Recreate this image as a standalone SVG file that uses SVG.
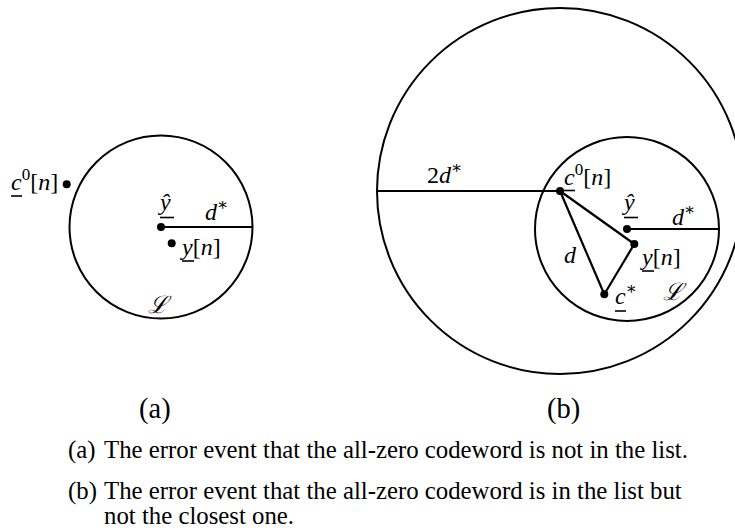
<svg xmlns="http://www.w3.org/2000/svg" width="735" height="531" viewBox="0 0 735 531">
<style>
.c{fill:none;stroke:#000;stroke-width:2}
.ln{stroke:#000;stroke-width:2.2;fill:none}
.ul{stroke:#000;stroke-width:1.6}
.dot{fill:#000}
.m{font-family:"Liberation Serif","DejaVu Serif",serif;font-size:24px;fill:#000}
.i{font-style:italic}
.sup{font-size:17px}
.cap{font-family:"Liberation Serif","Times New Roman",serif;font-size:24.8px;fill:#000}
.lab{font-family:"Liberation Serif","Times New Roman",serif;font-size:28.5px;fill:#000}
</style>
<rect width="735" height="531" fill="#fff"/>

<g id="circle-a-L"><circle class="c" cx="161" cy="227" r="91.5"/></g>
<g id="circle-b-2d"><circle class="c" cx="560" cy="191" r="183"/></g>
<g id="circle-b-L"><circle class="c" cx="627" cy="229" r="92"/></g>

<g id="connectors">
<line class="ln" x1="161" y1="227" x2="252.5" y2="227"/>
<line class="ln" x1="377" y1="191" x2="560" y2="191"/>
<line class="ln" x1="627" y1="229" x2="719" y2="229"/>
<line class="ln" x1="560" y1="191" x2="634.3" y2="244"/>
<line class="ln" x1="560" y1="191" x2="604.3" y2="294.3"/>
<line class="ln" x1="604.3" y1="294.3" x2="634.3" y2="244"/>
</g>

<g id="a-c0">
<circle class="dot" cx="66.7" cy="184.3" r="4"/>
<text class="m" x="11" y="190"><tspan class="i">c</tspan><tspan class="sup" dy="-10">0</tspan><tspan dy="10">[</tspan><tspan class="i">n</tspan>]</text>
<line class="ul" x1="11" y1="196" x2="22" y2="196"/>
</g>
<g id="a-yhat">
<circle class="dot" cx="161" cy="227" r="4"/>
<text class="m i" x="160" y="210">ŷ</text>
<line class="ul" x1="160" y1="217.5" x2="174" y2="217.5"/>
</g>
<g id="a-dstar"><text class="m" x="205" y="220"><tspan class="i">d</tspan><tspan class="sup" dy="-10">∗</tspan></text></g>
<g id="a-yn">
<circle class="dot" cx="171.7" cy="243.3" r="4"/>
<text class="m" x="182" y="255"><tspan class="i">y</tspan>[<tspan class="i">n</tspan>]</text>
<line class="ul" x1="182" y1="261" x2="194" y2="261"/>
</g>
<g id="a-L"><text class="m i" x="148" y="313">ℒ</text></g>

<g id="b-2dstar"><text class="m" x="427" y="183">2<tspan class="i">d</tspan><tspan class="sup" dy="-10">∗</tspan></text></g>
<g id="b-c0">
<circle class="dot" cx="560" cy="191" r="4"/>
<text class="m" x="564" y="185"><tspan class="i">c</tspan><tspan class="sup" dy="-10">0</tspan><tspan dy="10">[</tspan><tspan class="i">n</tspan>]</text>
<line class="ul" x1="564" y1="190.5" x2="575" y2="190.5"/>
</g>
<g id="b-yhat">
<circle class="dot" cx="627" cy="229" r="4"/>
<text class="m i" x="624" y="210">ŷ</text>
<line class="ul" x1="624" y1="217.5" x2="638" y2="217.5"/>
</g>
<g id="b-dstar"><text class="m" x="672" y="225"><tspan class="i">d</tspan><tspan class="sup" dy="-10">∗</tspan></text></g>
<g id="b-d"><text class="m i" x="564" y="263">d</text></g>
<g id="b-yn">
<circle class="dot" cx="634.3" cy="244" r="4"/>
<text class="m" x="642" y="265"><tspan class="i">y</tspan>[<tspan class="i">n</tspan>]</text>
<line class="ul" x1="642" y1="271" x2="654" y2="271"/>
</g>
<g id="b-cstar">
<circle class="dot" cx="604.3" cy="294.3" r="4"/>
<text class="m" x="615" y="304"><tspan class="i">c</tspan><tspan class="sup" dy="-10">∗</tspan></text>
<line class="ul" x1="615" y1="311" x2="626" y2="311"/>
</g>
<g id="b-L"><text class="m i" x="663" y="300">ℒ</text></g>

<g id="labels">
<text class="lab" x="139" y="418">(a)</text>
<text class="lab" x="547" y="418">(b)</text>
<text class="cap" x="68" y="458">(a)</text>
<text class="cap" x="104" y="458">The error event that the all-zero codeword is not in the list.</text>
<text class="cap" x="68" y="499">(b)</text>
<text class="cap" x="104" y="499">The error event that the all-zero codeword is in the list but</text>
<text class="cap" x="104" y="524">not the closest one.</text>
</g>
</svg>
